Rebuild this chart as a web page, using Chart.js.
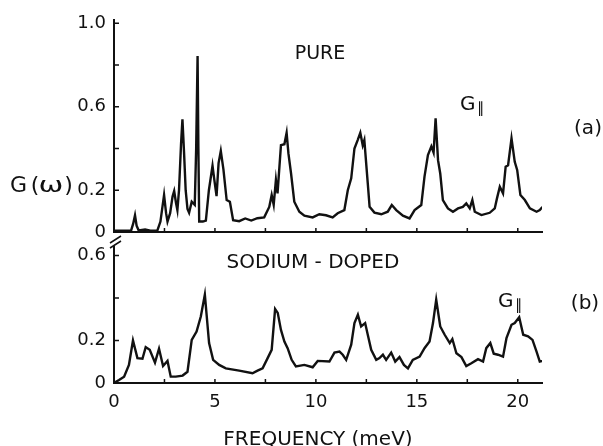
<!DOCTYPE html>
<html>
<head>
<meta charset="utf-8">
<script src="https://cdn.jsdelivr.net/npm/chart.js@4.4.1/dist/chart.umd.min.js"></script>
<style>
  html, body { margin: 0; padding: 0; background: #fff; }
  #wrap { position: relative; width: 603px; height: 446px; }
  #wrap canvas { position: absolute; left: 0; top: 0; }
</style>
</head>
<body>
<div id="wrap">
  <canvas id="pure" width="603" height="446"></canvas>
  <canvas id="doped" width="603" height="446"></canvas>
</div>
<script>
// (a) pure crystal: frequency (meV) and G(omega)
const freqPure = [0.0, 0.5, 0.85, 0.95, 1.04, 1.12, 1.22, 1.54, 1.8, 2.15, 2.3, 2.48, 2.58, 2.65, 2.78, 2.9, 2.98, 3.07, 3.14, 3.22, 3.32, 3.39, 3.47, 3.55, 3.64, 3.72, 3.85, 4.0, 4.07, 4.14, 4.18, 4.22, 4.4, 4.55, 4.7, 4.88, 4.97, 5.08, 5.18, 5.29, 5.42, 5.58, 5.74, 5.9, 6.2, 6.5, 6.8, 7.1, 7.44, 7.69, 7.81, 7.91, 8.02, 8.1, 8.27, 8.44, 8.55, 8.64, 8.77, 8.93, 9.18, 9.43, 9.84, 10.17, 10.5, 10.83, 11.08, 11.41, 11.58, 11.75, 11.91, 12.07, 12.2, 12.32, 12.4, 12.57, 12.66, 12.9, 13.24, 13.56, 13.76, 13.98, 14.31, 14.64, 14.89, 15.22, 15.38, 15.55, 15.72, 15.83, 15.93, 16.05, 16.16, 16.29, 16.54, 16.79, 17.04, 17.28, 17.45, 17.62, 17.75, 17.87, 18.2, 18.61, 18.86, 18.97, 19.11, 19.27, 19.4, 19.52, 19.69, 19.85, 19.97, 20.13, 20.35, 20.6, 20.93, 21.09, 21.22];
const gPure = [0.006, 0.006, 0.008, 0.04, 0.08, 0.03, 0.008, 0.012, 0.006, 0.008, 0.05, 0.177, 0.09, 0.05, 0.09, 0.17, 0.196, 0.14, 0.105, 0.2, 0.42, 0.54, 0.38, 0.2, 0.11, 0.092, 0.145, 0.13, 0.4, 0.842, 0.4, 0.05, 0.05, 0.055, 0.2, 0.317, 0.25, 0.172, 0.33, 0.388, 0.3, 0.153, 0.145, 0.057, 0.052, 0.065, 0.055, 0.066, 0.07, 0.12, 0.177, 0.13, 0.249, 0.185, 0.416, 0.42, 0.475, 0.376, 0.28, 0.145, 0.097, 0.078, 0.07, 0.085, 0.08, 0.07, 0.09, 0.105, 0.2, 0.257, 0.4, 0.44, 0.475, 0.415, 0.44, 0.233, 0.121, 0.093, 0.085, 0.097, 0.129, 0.105, 0.078, 0.065, 0.105, 0.129, 0.265, 0.368, 0.41, 0.38, 0.544, 0.344, 0.28, 0.153, 0.113, 0.097, 0.113, 0.12, 0.137, 0.113, 0.153, 0.097, 0.081, 0.092, 0.113, 0.161, 0.217, 0.185, 0.313, 0.32, 0.448, 0.336, 0.297, 0.177, 0.153, 0.113, 0.097, 0.105, 0.12];

// (b) sodium-doped crystal
const freqDoped = [0.0, 0.25, 0.5, 0.74, 0.94, 1.16, 1.41, 1.57, 1.77, 2.03, 2.23, 2.43, 2.65, 2.81, 3.06, 3.4, 3.64, 3.85, 4.09, 4.3, 4.5, 4.71, 4.91, 5.21, 5.54, 6.2, 6.86, 7.11, 7.36, 7.61, 7.81, 7.98, 8.11, 8.27, 8.44, 8.6, 8.8, 9.01, 9.43, 9.84, 10.09, 10.67, 10.92, 11.17, 11.33, 11.5, 11.75, 11.91, 12.08, 12.24, 12.44, 12.57, 12.74, 12.99, 13.15, 13.32, 13.48, 13.73, 13.93, 14.14, 14.36, 14.56, 14.8, 15.14, 15.38, 15.63, 15.8, 15.96, 16.16, 16.38, 16.63, 16.76, 16.96, 17.21, 17.45, 17.7, 18.03, 18.28, 18.44, 18.64, 18.81, 19.02, 19.27, 19.44, 19.69, 19.85, 20.07, 20.27, 20.51, 20.73, 20.93, 21.09, 21.25];
const gDoped = [0.0, 0.014, 0.03, 0.085, 0.2, 0.117, 0.114, 0.169, 0.156, 0.096, 0.161, 0.08, 0.104, 0.03, 0.03, 0.035, 0.053, 0.203, 0.242, 0.313, 0.416, 0.188, 0.109, 0.085, 0.069, 0.058, 0.046, 0.058, 0.069, 0.117, 0.156, 0.348, 0.33, 0.25, 0.195, 0.164, 0.109, 0.078, 0.085, 0.074, 0.104, 0.101, 0.143, 0.148, 0.133, 0.109, 0.18, 0.282, 0.321, 0.266, 0.282, 0.227, 0.156, 0.109, 0.117, 0.133, 0.109, 0.143, 0.101, 0.122, 0.085, 0.069, 0.109, 0.124, 0.164, 0.195, 0.282, 0.392, 0.266, 0.227, 0.188, 0.207, 0.14, 0.122, 0.08, 0.093, 0.112, 0.101, 0.164, 0.188, 0.138, 0.133, 0.124, 0.211, 0.274, 0.282, 0.309, 0.227, 0.22, 0.203, 0.148, 0.101, 0.104];

// axis ticks and their labels
const pureYTicks = [0, 0.2, 0.4, 0.6, 0.8, 1.0];
const pureYLabels = ['0', '0.2', '', '0.6', '', '1.0'];
const dopedYTicks = [0, 0.2, 0.4, 0.6];
const dopedYLabels = ['0', '0.2', '', '0.6'];
const freqTicks = [0, 5, 10, 15, 20];
const freqLabels = ['0', '5', '10', '15', '20'];
const freqMarks = [2.5, 5, 7.5, 10, 12.5, 15, 17.5, 20];

const INK = '#111';
const FONT = '"DejaVu Sans", sans-serif';

function pairs(xs, ys) { return xs.map((x, i) => ({ x: x, y: ys[i] })); }

// small inward tick marks on both axes
const tickMarks = {
  id: 'tickMarks',
  afterDraw(chart, args, opts) {
    const { ctx, chartArea: a, scales: { x, y } } = chart;
    ctx.save();
    ctx.strokeStyle = INK;
    ctx.lineWidth = 1.5;
    ctx.beginPath();
    opts.yTicks.forEach(v => {
      const py = y.getPixelForValue(v);
      ctx.moveTo(a.left, py); ctx.lineTo(a.left + 5, py);
    });
    freqMarks.forEach(v => {
      const px = x.getPixelForValue(v);
      ctx.moveTo(px, a.bottom); ctx.lineTo(px, a.bottom - 4);
    });
    ctx.stroke();
    ctx.restore();
  }
};

// panel captions and labels
function drawText(ctx, text, x, y, size, align) {
  ctx.font = size + 'px ' + FONT;
  ctx.textAlign = align || 'center';
  ctx.textBaseline = 'alphabetic';
  ctx.fillText(text, x, y);
}
function drawGPar(ctx, x, y) {
  drawText(ctx, 'G', x, y, 20, 'left');
  drawText(ctx, '\u2225', x + 17, y + 3, 15, 'left');
}

const captions = {
  id: 'captions',
  afterDraw(chart, args, opts) {
    const ctx = chart.ctx;
    ctx.save();
    ctx.fillStyle = INK;
    if (opts.panel === 'a') {
      drawText(ctx, 'PURE', 320, 59, 19);
      drawGPar(ctx, 460, 110);
      drawText(ctx, '(a)', 588, 134, 20);
      // G(omega) axis label
      drawText(ctx, 'G', 18.5, 192, 22);
      drawText(ctx, '(', 35, 192, 22);
      ctx.save();
      ctx.translate(51, 192);
      ctx.scale(1.35, 1);
      drawText(ctx, '\u03c9', 0, 0, 22);
      ctx.restore();
      drawText(ctx, ')', 68.5, 192, 22);
      // axis break marks
      ctx.strokeStyle = INK;
      ctx.lineWidth = 1.5;
      ctx.beginPath();
      ctx.moveTo(110, 243); ctx.lineTo(121, 236);
      ctx.moveTo(110, 248); ctx.lineTo(121, 241);
      ctx.stroke();
    } else {
      drawText(ctx, 'SODIUM - DOPED', 313, 268, 20);
      drawGPar(ctx, 498, 307);
      drawText(ctx, '(b)', 585, 309, 20);
      drawText(ctx, 'FREQUENCY (meV)', 318, 445, 20);
    }
    ctx.restore();
  }
};

function lineDataset(xs, ys) {
  return {
    data: pairs(xs, ys),
    borderColor: INK,
    borderWidth: 2.4,
    pointRadius: 0,
    tension: 0,
    fill: false
  };
}

function yScale(max, ticks, labels) {
  return {
    type: 'linear',
    min: 0,
    max: max,
    afterBuildTicks: s => { s.ticks = ticks.map(v => ({ value: v })); },
    afterFit: s => { s.width = 114; },
    grid: { display: false, drawTicks: false },
    border: { color: INK, width: 2 },
    ticks: {
      callback: v => labels[ticks.indexOf(v)],
      color: INK,
      padding: 8,
      font: { family: FONT, size: 18 }
    }
  };
}

new Chart(document.getElementById('pure'), {
  type: 'line',
  data: { datasets: [lineDataset(freqPure, gPure)] },
  options: {
    responsive: false,
    animation: false,
    layout: { padding: { left: 0, top: 20, right: 61, bottom: 214 } },
    plugins: {
      legend: { display: false },
      tooltip: { enabled: false },
      tickMarks: { yTicks: pureYTicks },
      captions: { panel: 'a' }
    },
    scales: {
      x: {
        type: 'linear',
        min: 0,
        max: 21.2,
        afterFit: s => { s.height = 0; },
        grid: { display: false, drawTicks: false },
        border: { color: INK, width: 2 },
        ticks: { display: false }
      },
      y: yScale(1.015, pureYTicks, pureYLabels)
    }
  },
  plugins: [tickMarks, captions]
});

new Chart(document.getElementById('doped'), {
  type: 'line',
  data: { datasets: [lineDataset(freqDoped, gDoped)] },
  options: {
    responsive: false,
    animation: false,
    layout: { padding: { left: 0, top: 247, right: 61, bottom: 0 } },
    plugins: {
      legend: { display: false },
      tooltip: { enabled: false },
      tickMarks: { yTicks: dopedYTicks },
      captions: { panel: 'b' }
    },
    scales: {
      x: {
        type: 'linear',
        min: 0,
        max: 21.2,
        afterBuildTicks: s => { s.ticks = freqTicks.map(v => ({ value: v })); },
        afterFit: s => { s.height = 63; },
        grid: { display: false, drawTicks: false },
        border: { color: INK, width: 2 },
        ticks: {
          callback: v => freqLabels[freqTicks.indexOf(v)],
          color: INK,
          padding: 9,
          maxRotation: 0,
          font: { family: FONT, size: 18 }
        }
      },
      y: yScale(0.64, dopedYTicks, dopedYLabels)
    }
  },
  plugins: [tickMarks, captions]
});
</script>
</body>
</html>
